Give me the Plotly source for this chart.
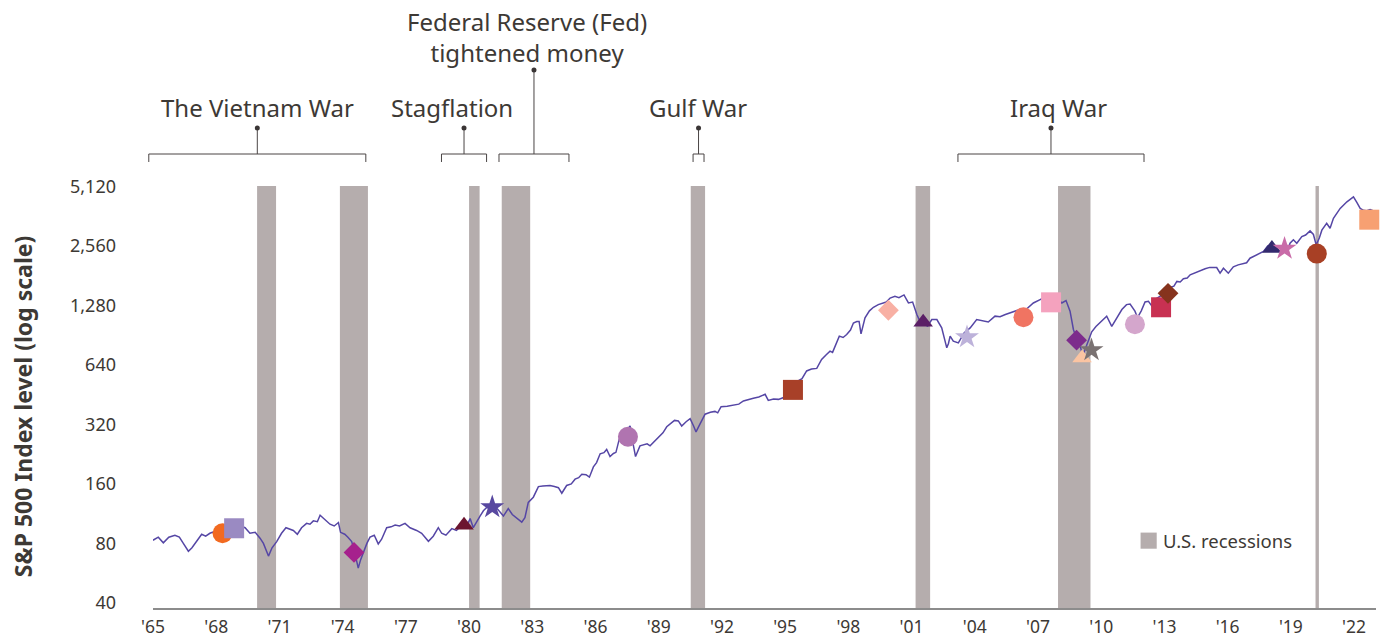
import math
import plotly.graph_objects as go

# S&P 500 index level (decimal year, level)
years = [
    1965.00, 1965.25, 1965.49, 1965.75, 1966.04, 1966.25, 1966.44, 1966.68, 1966.85,
    1967.07, 1967.31, 1967.50, 1967.70, 1967.94, 1968.15, 1968.40, 1968.65, 1968.90,
    1969.15, 1969.37, 1969.60, 1969.85, 1970.08, 1970.24, 1970.48, 1970.65, 1970.87,
    1971.10, 1971.31, 1971.50, 1971.66, 1971.85, 1972.05, 1972.29, 1972.45, 1972.61,
    1972.80, 1972.93, 1973.15, 1973.40, 1973.60, 1973.80, 1973.90, 1974.10, 1974.25,
    1974.43, 1974.60, 1974.74, 1974.85, 1974.98, 1975.15, 1975.30, 1975.50, 1975.69,
    1975.85, 1976.09, 1976.30, 1976.49, 1976.70, 1976.96, 1977.20, 1977.51, 1977.75,
    1978.07, 1978.30, 1978.54, 1978.70, 1978.90, 1979.18, 1979.40, 1979.65, 1979.85,
    1980.05, 1980.20, 1980.35, 1980.52, 1980.68, 1980.85, 1981.07, 1981.30, 1981.63,
    1981.86, 1982.05, 1982.26, 1982.50, 1982.65, 1982.81, 1983.05, 1983.29, 1983.50,
    1983.84, 1984.05, 1984.24, 1984.40, 1984.63, 1984.85, 1985.03, 1985.20, 1985.35,
    1985.55, 1985.71, 1985.90, 1986.05, 1986.22, 1986.40, 1986.53, 1986.69, 1986.85,
    1986.97, 1987.13, 1987.32, 1987.50, 1987.64, 1987.80, 1987.90, 1988.11, 1988.30,
    1988.45, 1988.59, 1988.80, 1988.98, 1989.20, 1989.38, 1989.60, 1989.75, 1989.93,
    1990.09, 1990.30, 1990.49, 1990.65, 1990.77, 1990.95, 1991.20, 1991.45, 1991.67,
    1991.80, 1991.96, 1992.25, 1992.54, 1992.80, 1993.02, 1993.25, 1993.49, 1993.75,
    1994.05, 1994.20, 1994.45, 1994.68, 1994.90, 1995.15, 1995.37, 1995.60, 1995.80,
    1996.02, 1996.25, 1996.50, 1996.73, 1996.95, 1997.13, 1997.25, 1997.37, 1997.57,
    1997.75, 1997.92, 1998.10, 1998.24, 1998.40, 1998.51, 1998.60, 1998.79, 1999.00,
    1999.19, 1999.42, 1999.60, 1999.80, 1999.98, 2000.21, 2000.40, 2000.64, 2000.85,
    2001.05, 2001.25, 2001.40, 2001.55, 2001.75, 2001.96, 2002.20, 2002.43, 2002.55,
    2002.67, 2002.75, 2002.83, 2002.98, 2003.22, 2003.50, 2003.78, 2004.09, 2004.35,
    2004.64, 2004.96, 2005.20, 2005.45, 2005.67, 2006.00, 2006.25, 2006.47, 2006.78,
    2007.10, 2007.40, 2007.60, 2007.73, 2007.95, 2008.13, 2008.33, 2008.52, 2008.68,
    2008.84, 2009.00, 2009.12, 2009.30, 2009.55, 2009.75, 2010.02, 2010.26, 2010.50,
    2010.74, 2010.98, 2011.20, 2011.37, 2011.60, 2011.72, 2011.90, 2012.08, 2012.24,
    2012.40, 2012.60, 2012.87, 2013.05, 2013.27, 2013.45, 2013.59, 2013.75, 2013.90,
    2014.08, 2014.22, 2014.53, 2014.75, 2014.93, 2015.15, 2015.32, 2015.48, 2015.64,
    2015.80, 2016.03, 2016.27, 2016.50, 2016.75, 2016.90, 2017.06, 2017.38, 2017.70,
    2017.90, 2018.05, 2018.25, 2018.45, 2018.70, 2018.85, 2018.96, 2019.12, 2019.28,
    2019.52, 2019.70, 2019.91, 2020.07, 2020.20, 2020.35, 2020.47, 2020.70, 2020.86,
    2021.02, 2021.34, 2021.66, 2021.85, 2021.97, 2022.13, 2022.29, 2022.45, 2022.60,
    2022.76, 2022.90,
]
sp500 = [
    83, 86, 80.5, 86, 88, 86, 80, 73, 76,
    81.7, 89, 87, 90, 92, 87, 93, 97, 101,
    98, 96, 90, 91, 85, 80, 69, 76, 81.7,
    90, 96, 94, 93, 89, 96, 101, 100, 104,
    103, 111, 106, 100, 98, 102, 91, 89, 86,
    81.7, 70, 60, 66, 72, 80, 86, 88, 79.5,
    84, 96, 97, 99, 98, 101, 96, 93, 90,
    82, 87, 96, 90, 88, 95, 93, 98.5, 96,
    106.8, 96, 103, 110, 117, 122, 124, 121, 110,
    120, 112, 107, 102.5, 108, 129, 137, 155, 156,
    157, 155, 153, 143.5, 157, 160, 169, 172, 179,
    178, 173, 195, 205, 227, 230, 239, 220, 228,
    231, 270, 293, 300, 314, 250, 220, 249, 252,
    255, 249, 262, 275, 290, 311, 325, 335, 333,
    314, 330, 342, 315, 293, 320, 360, 368, 372,
    366, 393, 395, 399, 405, 420, 428, 434, 440,
    454, 423, 430, 428, 436, 460, 480, 530, 545,
    596, 610, 614, 681, 720, 751, 740, 796, 894,
    880, 911, 960, 1042, 1060, 1060, 918, 1105, 1200,
    1251, 1290, 1310, 1330, 1392, 1420, 1400, 1444, 1315,
    1330, 1150, 1060, 1130, 1000, 1084, 1084, 984, 880,
    780, 820, 894, 843, 826, 930, 984, 1084, 1070,
    1053, 1128, 1120, 1150, 1172, 1210, 1230, 1228, 1315,
    1368, 1420, 1400, 1340, 1380, 1315, 1352, 1195, 966,
    860, 800, 710, 800, 940, 1000, 1072, 1128, 1001,
    1105, 1218, 1290, 1300, 1195, 1110, 1200, 1330, 1340,
    1270, 1380, 1444, 1480, 1575, 1600, 1690, 1680, 1744,
    1760, 1826, 1890, 1930, 1958, 1990, 1987, 1987, 1861,
    1970, 1861, 2003, 2050, 2091, 2100, 2215, 2304, 2395,
    2550, 2490, 2500, 2530, 2520, 2420, 2636, 2745, 2636,
    2849, 2900, 3043, 2920, 2588, 2800, 3070, 3322, 3140,
    3522, 3954, 4272, 4400, 4520, 4240, 3954, 3870, 3850,
    3905, 3850,
]

# U.S. recessions
recession_start = [1969.94, 1973.87, 1980.00, 1981.55, 1990.52, 2001.19, 2007.95, 2020.17]
recession_end = [1970.84, 1975.20, 1980.50, 1982.90, 1991.20, 2001.88, 2009.49, 2020.33]

# historical periods shown with brackets above the chart
period_names = ["The Vietnam War", "Stagflation", "Federal Reserve (Fed)<br>tightened money",
                "Gulf War", "Iraq War"]
period_start = [1964.80, 1978.69, 1981.42, 1990.63, 2003.20]
period_end = [1975.10, 1980.83, 1984.74, 1991.15, 2012.03]

# highlighted events on the index line
event_years = [1968.30, 1968.85, 1974.54, 1979.76, 1981.10, 1987.54, 1995.37, 1999.90,
               2001.55, 2003.63, 2006.31, 2007.62, 2008.83, 2009.09, 2009.54, 2011.60,
               2012.84, 2013.17, 2018.10, 2018.70, 2020.23, 2022.72]
event_levels = [90, 95.4, 72, 98.7, 122, 277, 478, 1208,
                1051, 883, 1113, 1325, 853, 693, 760, 1027,
                1251, 1472, 2478, 2478, 2337, 3469]

y_ticks = [40, 80, 160, 320, 640, 1280, 2560, 5120]
x_ticks = list(range(1965, 2023, 3))

# marker styles for the events (symbol, colour)
event_styles = [
    ("circle", "#f26a21"), ("square", "#9a8ac2"), ("diamond", "#a6218d"),
    ("triangle-up", "#6c1530"), ("star", "#5848a0"), ("circle", "#b074b0"),
    ("square", "#a84028"), ("diamond", "#f8b0a4"), ("triangle-up", "#5b1f66"),
    ("star", "#bdb2da"), ("circle", "#f07462"), ("square", "#f4a2be"),
    ("diamond", "#7d2c8c"), ("triangle-up", "#fbc4a2"), ("star", "#7a7272"),
    ("circle", "#d4a6cc"), ("square", "#c83152"), ("diamond", "#86331d"),
    ("triangle-up", "#332a6e"), ("star", "#c96ba8"), ("circle", "#a84025"),
    ("square", "#f7a072"),
]
SIZES = {"circle": 20, "square": 20, "diamond": 16, "triangle-up": 17, "star": 18}

TEXT = "#3d3935"
FONT = "Noto Sans"
XR = [1965, 2023.04]


def xp(yr):
    return (yr - XR[0]) / (XR[1] - XR[0])


fig = go.Figure()

fig.add_trace(go.Scatter(
    x=years, y=sp500, mode="lines",
    line=dict(color="#5546a5", width=1.5),
    hoverinfo="skip", showlegend=False,
))

fig.add_trace(go.Scatter(
    x=event_years, y=event_levels, mode="markers",
    marker=dict(symbol=[s for s, c in event_styles],
                color=[c for s, c in event_styles],
                size=[SIZES[s] for s, c in event_styles],
                line=dict(width=0), opacity=1),
    cliponaxis=False, showlegend=False, hoverinfo="skip",
))

shapes = []
for s, e in zip(recession_start, recession_end):
    shapes.append(dict(type="rect", xref="x", yref="paper", x0=s, x1=e, y0=0, y1=1,
                       fillcolor="#b5adad", line=dict(width=0), layer="below"))

annotations = []
BR_Y, BR_TICK = 1.0758, 1.0569
BR = dict(color="#4a4545", width=1)
for name, s, e in zip(period_names, period_start, period_end):
    mid = (s + e) / 2
    dot_y = 1.2749 if "Fed" in name else 1.1374
    shapes.append(dict(type="path", xref="paper", yref="paper", line=BR,
                       path="M {a},{t} L {a},{b} L {c},{b} L {c},{t}".format(
                           a=xp(s), c=xp(e), b=BR_Y, t=BR_TICK)))
    shapes.append(dict(type="line", xref="paper", yref="paper", line=BR,
                       x0=xp(mid), x1=xp(mid), y0=BR_Y, y1=dot_y))
    shapes.append(dict(type="circle", xref="paper", yref="paper",
                       xsizemode="pixel", ysizemode="pixel",
                       xanchor=xp(mid), yanchor=dot_y, x0=-2.5, x1=2.5, y0=-2.5, y1=2.5,
                       fillcolor="#3a3535", line=dict(width=0)))

label_x = [1969.94, 1979.19, 1982.75, 1990.87, 2007.95]
for name, lx in zip(period_names, label_x):
    ly = 1.354 if "Fed" in name else 1.187
    annotations.append(dict(text=name, xref="paper", yref="paper", x=xp(lx), y=ly,
                            xanchor="center", yanchor="middle", showarrow=False,
                            font=dict(family=FONT, size=24, color=TEXT)))

# y axis title
annotations.append(dict(text="<b>S&P 500 Index level (log scale)</b>", xref="paper", yref="paper",
                        x=-0.1063, y=0.478, textangle=-90, showarrow=False,
                        xanchor="center", yanchor="middle",
                        font=dict(family=FONT, size=23, color=TEXT)))

# legend
shapes.append(dict(type="rect", xref="paper", yref="paper", x0=0.8075, x1=0.8207,
                   y0=0.1405, y1=0.1787, fillcolor="#b5adad", line=dict(width=0)))
annotations.append(dict(text="U.S. recessions", xref="paper", yref="paper", x=0.824, y=0.1588,
                        xanchor="left", yanchor="middle", showarrow=False,
                        font=dict(family=FONT, size=18.5, color=TEXT)))

fig.update_layout(
    width=1383, height=638,
    margin=dict(l=153, r=7, t=186, b=30),
    paper_bgcolor="white", plot_bgcolor="white",
    font=dict(family=FONT, size=18, color=TEXT),
    shapes=shapes, annotations=annotations,
    xaxis=dict(range=XR, tickvals=x_ticks, ticktext=["'%02d" % (t % 100) for t in x_ticks],
               showgrid=False, zeroline=False, showline=True, linecolor="#8c8c8c",
               linewidth=1.5, ticks="", ticklabelstandoff=2, automargin=False,
               tickfont=dict(family=FONT, size=17.5, color=TEXT)),
    yaxis=dict(type="log", range=[math.log10(37.7), math.log10(5135)],
               tickvals=y_ticks, ticktext=["{:,}".format(t) for t in y_ticks],
               showgrid=False, zeroline=False, showline=False, ticks="",
               ticklabelstandoff=36, automargin=False,
               tickfont=dict(family=FONT, size=18, color=TEXT)),
)

fig.write_html("out.html", config={"displayModeBar": False},
               post_script="document.body.style.margin='0';")
